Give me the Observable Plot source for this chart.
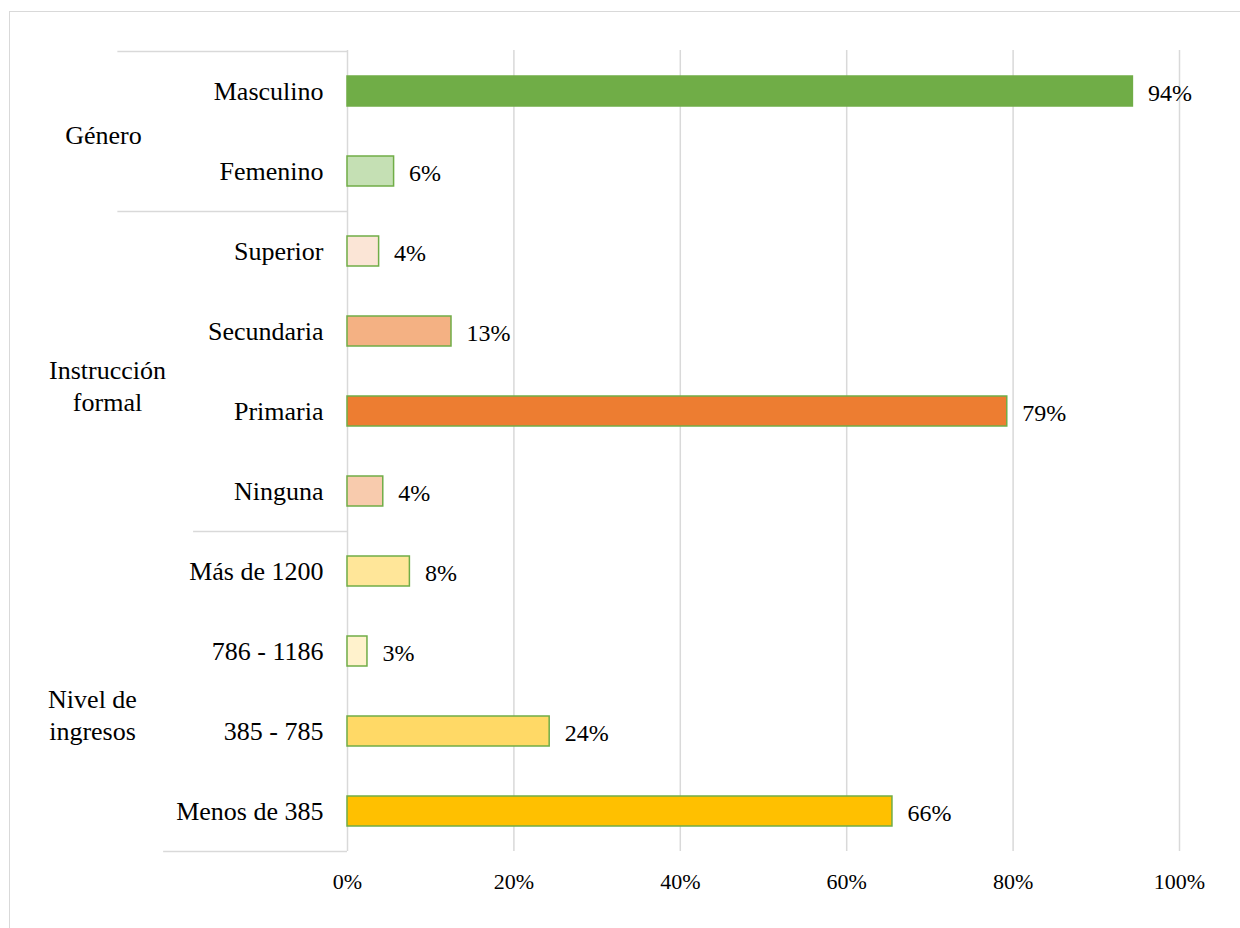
<!DOCTYPE html>
<html>
<head>
<meta charset="utf-8">
<script src="https://cdn.jsdelivr.net/npm/d3@7"></script>
<script src="https://cdn.jsdelivr.net/npm/@observablehq/plot@0.6"></script>
<style>
  html, body { margin: 0; padding: 0; background: #fff; }
  #wrap { position: relative; width: 1240px; height: 928px; overflow: hidden; }
  #frame { position: absolute; left: 9px; top: 11px; width: 1300px; height: 1000px;
           border-left: 1.5px solid #d9d9d9; border-top: 1.5px solid #d9d9d9; pointer-events: none; z-index: 2; }
  svg text { font-family: 'Liberation Serif', 'Times New Roman', serif !important; font-variant: normal !important; }
</style>
</head>
<body>
<div id="wrap"><div id="frame"></div></div>
<script>
// ---- Data ----
const categories = ["Masculino", "Femenino", "Superior", "Secundaria", "Primaria", "Ninguna",
                    "Más de 1200", "786 - 1186", "385 - 785", "Menos de 385"];
const values = [94.4, 5.6, 3.8, 12.5, 79.3, 4.3, 7.5, 2.4, 24.3, 65.5];
const valueLabels = ["94%", "6%", "4%", "13%", "79%", "4%", "8%", "3%", "24%", "66%"];
const groups = ["Género", "Género", "Instrucción formal", "Instrucción formal", "Instrucción formal",
                "Instrucción formal", "Nivel de ingresos", "Nivel de ingresos", "Nivel de ingresos", "Nivel de ingresos"];
const barColors = ["#70AD47", "#C5E0B4", "#FBE5D6", "#F4B183", "#ED7D31", "#F8CBAD",
                   "#FFE699", "#FFF2CC", "#FFD966", "#FFC000"];
const groupNames = ["Género", "Instrucción formal", "Nivel de ingresos"];
const groupLabelText = ["Género", "Instrucción\nformal", "Nivel de\ningresos"];
const xTicks = [0, 20, 40, 60, 80, 100];

const FONT = "'Liberation Serif', 'Times New Roman', serif";

// ---- Build table ----
const rows = categories.map((c, i) => ({
  category: c, value: values[i], label: valueLabels[i], group: groups[i], color: barColors[i]
}));

// group label anchors: a category in each group plus a pixel offset (styling)
const groupLabelStyle = [
  {anchor: 0, dx: -244, dy: 42},
  {anchor: 3, dx: -240, dy: 53},
  {anchor: 7, dx: -255, dy: 62}
];
const groupLabels = groupNames.map((g, i) => ({
  text: groupLabelText[i],
  cat: categories[groupLabelStyle[i].anchor],
  dx: groupLabelStyle[i].dx, dy: groupLabelStyle[i].dy
}));

// separators: above first row of each group, and below the last row
const firstOf = groupNames.map(g => categories[groups.indexOf(g)]);
const sepColor = "#d9d9d9";
const halfStep = 40.05;

const plot = Plot.plot({
  width: 1240,
  height: 928,
  marginLeft: 347,
  marginRight: 61,
  marginTop: 50,
  marginBottom: 77,
  style: {fontFamily: FONT, background: "transparent", color: "#000"},
  x: {domain: [0, 100]},
  y: {domain: categories, paddingInner: 0.625, paddingOuter: 0.3125},
  color: {type: "identity"},
  marks: [
    Plot.gridX(xTicks, {stroke: "#d9d9d9", strokeOpacity: 1, strokeWidth: 1.5}),
    // category separator lines
    Plot.ruleY([firstOf[0]], {x1: -27.6, x2: 0, dy: -halfStep, stroke: sepColor, strokeWidth: 1.5}),
    Plot.ruleY([firstOf[1]], {x1: -27.6, x2: 0, dy: -halfStep, stroke: sepColor, strokeWidth: 1.5}),
    Plot.ruleY([firstOf[2]], {x1: -18.5, x2: 0, dy: -halfStep, stroke: sepColor, strokeWidth: 1.5}),
    Plot.ruleY([categories[categories.length - 1]], {x1: -22.1, x2: 0, dy: halfStep, stroke: sepColor, strokeWidth: 1.5}),
    Plot.barX(rows, {x: "value", y: "category", fill: "color", stroke: "#70AD47", strokeWidth: 1.5}),
    Plot.text(rows, {x: "value", y: "category", text: "label", textAnchor: "start", dx: 15, dy: 2,
      fontSize: 24, fontFamily: FONT, fill: "#000"}),
    Plot.axisY({tickSize: 0, tickPadding: 24, fontSize: 26, fontFamily: FONT, label: null}),
    Plot.axisX(xTicks, {tickSize: 0, tickPadding: 22, fontSize: 22, fontFamily: FONT, label: null,
      tickFormat: d => d + "%"}),
    ...groupLabels.map(g => Plot.text([g], {
      frameAnchor: "left", y: "cat", text: "text", dx: g.dx, dy: g.dy,
      textAnchor: "middle", fontSize: 26, fontFamily: FONT, lineHeight: 1.23, fill: "#000"
    }))
  ]
});
document.getElementById("wrap").prepend(plot);
</script>
</body>
</html>
